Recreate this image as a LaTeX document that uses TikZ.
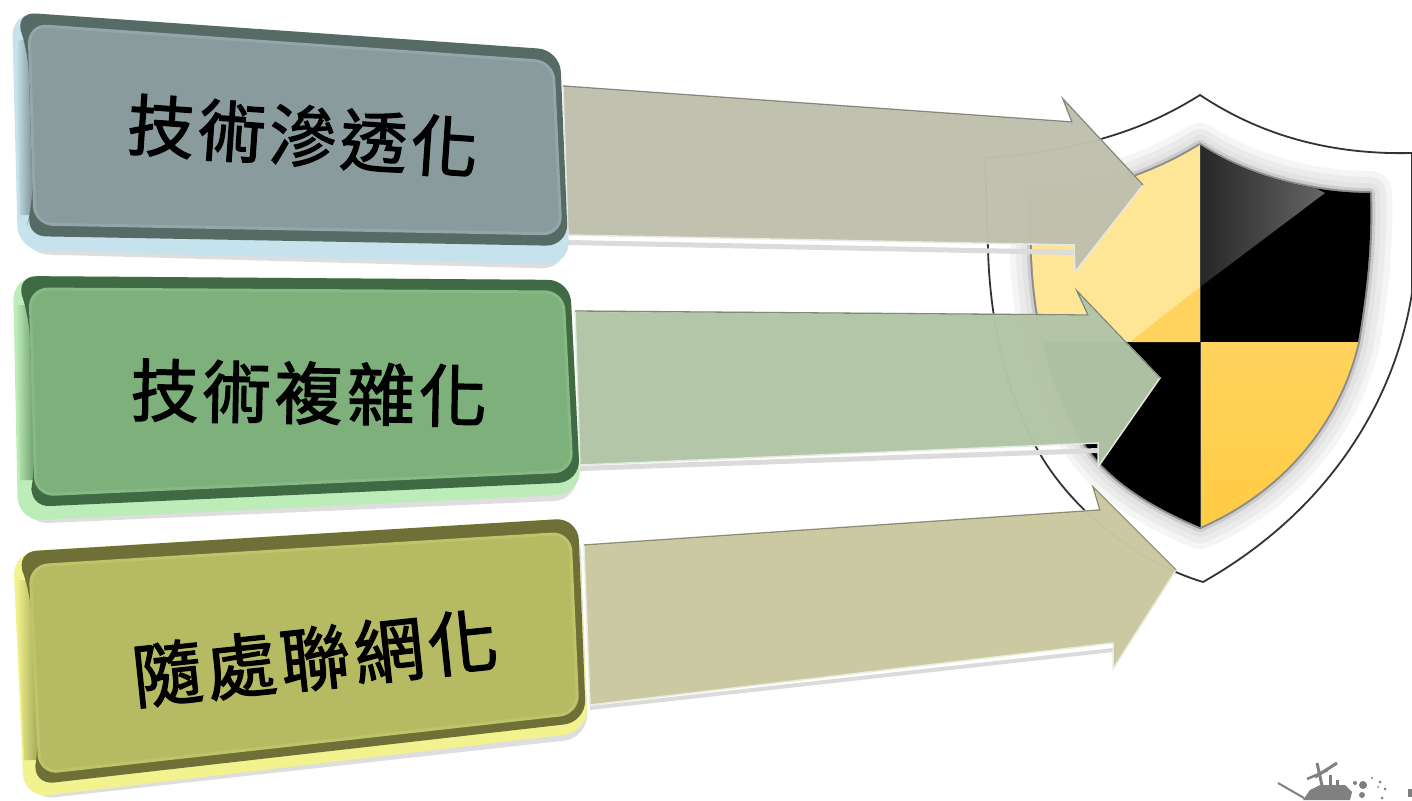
\documentclass[tikz,border=0pt]{standalone}
\usepackage{fontspec}
\setmainfont{Noto Sans CJK TC}
\definecolor{faceA}{HTML}{8A9B9D}
\definecolor{rimA}{HTML}{566A66}
\definecolor{lightA}{HTML}{C6E2EC}
\definecolor{faceB}{HTML}{7EB07C}
\definecolor{rimB}{HTML}{3F6A44}
\definecolor{lightB}{HTML}{BCEDB8}
\definecolor{faceC}{HTML}{B6BA62}
\definecolor{rimC}{HTML}{6E7038}
\definecolor{lightC}{HTML}{F2F38E}
\definecolor{arrowA}{HTML}{BFC0AD}
\definecolor{arrowB}{HTML}{B3C5A6}
\definecolor{arrowC}{HTML}{CAC8A0}
\definecolor{paleyellow}{HTML}{FFE596}
\definecolor{deepyellow}{HTML}{FFCB41}
\tikzset{
  boxshadow/.style={fill=black,opacity=0.13,rounded corners=24pt},
  boxlight/.style={rounded corners=24pt},
  boxrim/.style={rounded corners=22pt},
  boxface/.style={rounded corners=18pt,line width=3pt},
  blockarrow/.style={line width=1.5pt,line join=miter,opacity=0.975},
  arrowedge/.style={line width=1.3pt,line join=miter},
  arrowshadow/.style={black!14},
  boxlabel/.style={font=\fontsize{#1pt}{#1pt}\selectfont\addfontfeature{LetterSpace=6,FakeBold=1.8},text=black,inner sep=0pt}
}
\newcommand{\shieldinner}{(1200,145) .. controls (1245,175) and (1310,193) .. (1370,193) .. controls (1372,250) and (1365,300) .. (1358,342) .. controls (1340,420) and (1285,490) .. (1200,527) .. controls (1160,510) and (1125,490) .. (1100,463) .. controls (1060,420) and (1035,340) .. (1032,255) -- (1032,195) .. controls (1100,195) and (1160,170) .. (1200,145) -- cycle}
\begin{document}
\begin{tikzpicture}[x=1pt,y=-1pt]
\useasboundingbox (0,0) rectangle (1412,800);
\fill[white] (0,0) rectangle (1412,800);
\filldraw[fill=white,draw=black!80,line width=1.8pt] (1200,95) .. controls (1260,135) and (1330,155) .. (1412,153) -- (1412,293) .. controls (1395,400) and (1330,510) .. (1203,582) .. controls (1130,560) and (1060,500) .. (1030,435) .. controls (1005,385) and (990,320) .. (988,250) -- (985,158) .. controls (1100,150) and (1160,120) .. (1200,95) -- cycle;
\draw[black!4,line width=44pt,line join=round] \shieldinner;
\draw[black!8,line width=32pt,line join=round] \shieldinner;
\draw[black!11,line width=20pt,line join=round] \shieldinner;
\draw[black!20,line width=10pt,line join=round] \shieldinner;
\draw[black!45,line width=4pt,line join=round] \shieldinner;
\begin{scope}
\clip \shieldinner;
\fill[paleyellow] (1000,130) rectangle (1200,342);
\fill[black] (1200,130) rectangle (1400,342);
\fill[black] (1000,342) rectangle (1200,540);
\shade[top color=deepyellow!85!white,bottom color=deepyellow] (1200,342) rectangle (1400,540);
\fill[deepyellow!85!white] (1200,287) -- (1200,342) -- (1130,342) -- cycle;
\shade[left color=black!85,right color=black!60] (1200,130) -- (1325,193) -- (1200,287) -- cycle;
\end{scope}
\draw[black!75,line width=1pt] (1200,145) -- (1200,527);
\fill[arrowshadow] (568,240) -- (1074,250) -- (1074,255) -- (568,245) -- cycle;
\fill[arrowshadow] (580,466) -- (1098,448) -- (1098,453) -- (580,471) -- cycle;
\fill[arrowshadow] (590,706) -- (1113,648) -- (1113,652) -- (590,710) -- cycle;
\filldraw[blockarrow,fill=arrowA,draw=arrowA!35!white] (563,86) -- (1072,122) -- (1063,99) -- (1143,185) -- (1075,272) -- (1074,245) -- (568,235) -- cycle;
\draw[arrowedge,arrowA!70!black] (563,86) -- (1072,122) -- (1063,99) -- (1143,185);
\filldraw[blockarrow,fill=arrowB,draw=arrowB!35!white] (575,311) -- (1088,315) -- (1077,291) -- (1160,378) -- (1098,467) -- (1098,443) -- (580,465) -- cycle;
\draw[arrowedge,arrowB!70!black] (575,311) -- (1088,315) -- (1077,291) -- (1160,378);
\filldraw[blockarrow,fill=arrowC,draw=arrowC!35!white] (584,545) -- (1100,510) -- (1093,487) -- (1176,570) -- (1113,669) -- (1113,643) -- (590,705) -- cycle;
\draw[arrowedge,arrowC!70!black] (584,545) -- (1100,510) -- (1093,487) -- (1176,570);
\fill[boxshadow] (16,20) -- (556,56) -- (566,269) -- (24,254) -- cycle;
\fill[boxlight,lightA] (12,12) -- (558,50) -- (570,265) -- (18,250) -- cycle;
\shade[left color=lightA,right color=faceA!70!rimA] (16,40) -- (30,40) -- (34,215) -- (20,215) -- cycle;
\fill[boxrim,rimA] (14,12) -- (560,50) -- (568,246) -- (24,236) -- (33,205) -- (28,50) -- cycle;
\filldraw[boxface,fill=faceA,draw=faceA!85!lightA] (29,25) -- (553,62) -- (561,234) -- (35,224) -- cycle;
\fill[boxshadow] (16,284) -- (568,290) -- (578,500) -- (24,524) -- cycle;
\fill[boxlight,lightB] (13,276) -- (570,280) -- (581,494) -- (18,521) -- cycle;
\shade[left color=lightB,right color=faceB!70!rimB] (16,305) -- (31,305) -- (35,480) -- (20,480) -- cycle;
\fill[boxrim,rimB] (15,276) -- (570,280) -- (580,482) -- (28,507) -- (35,470) -- (29,315) -- cycle;
\filldraw[boxface,fill=faceB,draw=faceB!85!lightB] (30,289) -- (563,292) -- (572,471) -- (36,495) -- cycle;
\fill[boxshadow] (20,560) -- (580,528) -- (588,738) -- (30,800) -- cycle;
\fill[boxlight,lightC] (13,552) -- (578,518) -- (588,732) -- (24,798) -- cycle;
\shade[left color=lightC,right color=faceC!70!rimC] (16,580) -- (31,580) -- (39,760) -- (24,760) -- cycle;
\fill[boxrim,rimC] (15,552) -- (578,518) -- (586,722) -- (32,785) -- (39,745) -- (30,590) -- cycle;
\filldraw[boxface,fill=faceC,draw=faceC!85!lightC] (30,566) -- (570,533) -- (578,713) -- (40,773) -- cycle;
\node[boxlabel=67,rotate=-4] (shentou) at (303,136) {技術滲透化};
\node[boxlabel=68,rotate=-1] (fuza) at (309,393) {技術複雜化};
\node[boxlabel=70,rotate=6] (lianwang) at (315,658) {隨處聯網化};
\fill[black!50] (1303,800) -- (1310,790) -- (1320,785) -- (1345,785) -- (1352,792) -- (1350,800) -- cycle;
\draw[black!50,line width=2pt] (1278,783) -- (1304,798);
\draw[black!50,line width=3pt] (1323,790) -- (1317,763);
\draw[black!50,line width=3pt] (1315,777) -- (1337,763);
\draw[black!50,line width=2.5pt] (1307,779) -- (1328,770);
\draw[black!50,line width=3pt] (1330,790) -- (1330,775);
\draw[black!50,line width=3pt] (1337,790) -- (1337,780);
\fill[black!50] (1363,785) circle (4pt);
\fill[black!50] (1355,783) circle (2pt);
\fill[black!50] (1372,778) circle (1.2pt);
\fill[black!50] (1380,782) circle (1.5pt);
\fill[black!50] (1385,789) circle (1.5pt);
\fill[black!50] (1378,787) circle (1pt);
\fill[black!50] (1362,795) circle (3pt);
\fill[black!50] (1382,798) circle (1.5pt);
\fill[black!50] (1408,789) rectangle (1412,797);
\end{tikzpicture}
\end{document}
